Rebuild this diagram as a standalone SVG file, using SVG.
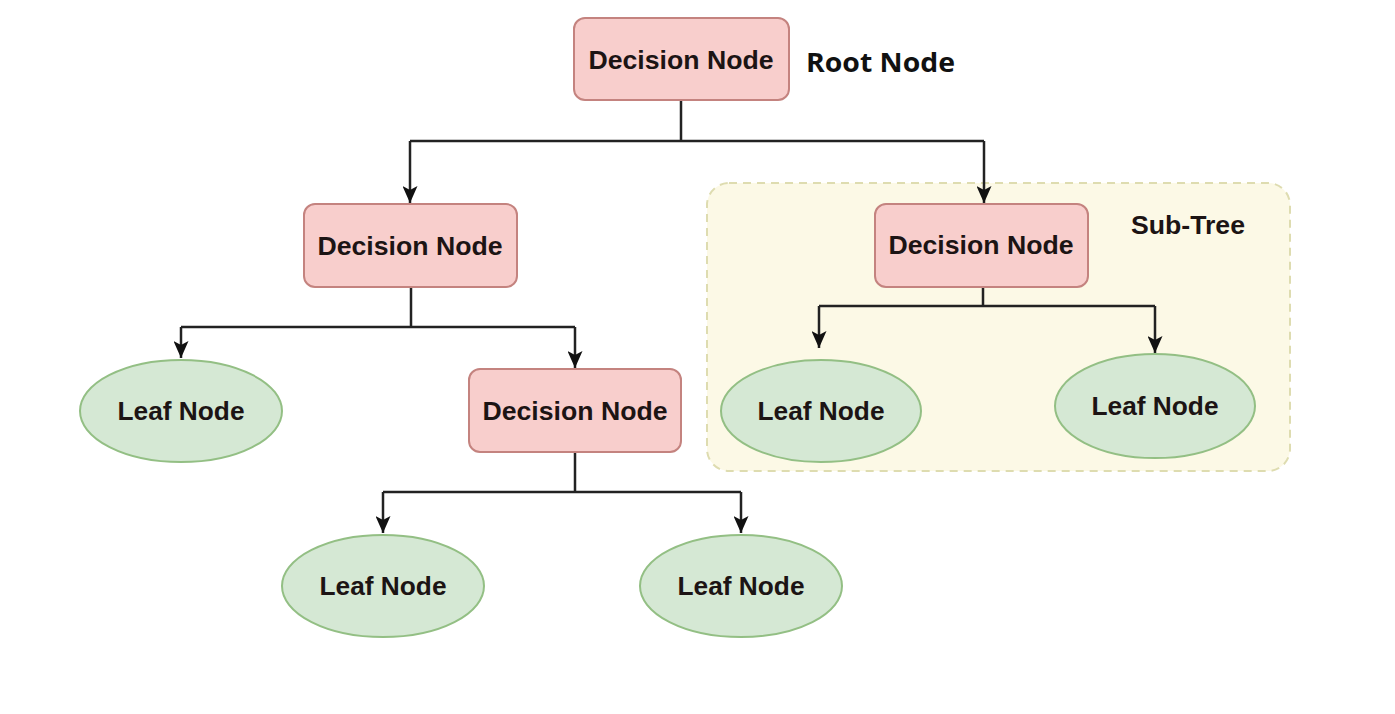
<svg xmlns="http://www.w3.org/2000/svg" width="1395" height="714" viewBox="0 0 1395 714">
<style>
.dec{fill:#f8cecc;stroke:#c4837f;stroke-width:2}
.leaf{fill:#d5e8d4;stroke:#93bf84;stroke-width:2}
.t{font-family:"Liberation Sans",Arial,sans-serif;font-weight:bold;font-size:25px;fill:#1c1414;text-anchor:middle}
.lbl{font-family:"Open Sans","Liberation Sans",sans-serif;font-weight:bold;font-size:27px;fill:#111}
.c{fill:none;stroke:#222;stroke-width:2.5}
</style>
<defs>
<marker id="ah" viewBox="0 0 17 15" refX="17" refY="7.5" markerWidth="17" markerHeight="15" markerUnits="userSpaceOnUse" orient="auto">
<path d="M0,0 L17,7.5 L0,15 L4,7.5 Z" fill="#111"/>
</marker>
</defs>
<rect width="1395" height="714" fill="#fff"/>
<g id="subtree">
<rect x="707" y="183" width="583" height="288" rx="22" fill="#fcf9e6" stroke="#dedcb0" stroke-width="2" stroke-dasharray="8 6"/>
<text class="t" x="1188" y="234" textLength="114" lengthAdjust="spacingAndGlyphs">Sub-Tree</text>
</g>
<g id="connectors">
<path class="c" d="M681,100 V141 M410,141 H984"/>
<path class="c" d="M410,141 V203" marker-end="url(#ah)"/>
<path class="c" d="M984,141 V203" marker-end="url(#ah)"/>
<path class="c" d="M411,287 V327 M181,327 H575"/>
<path class="c" d="M181,327 V358" marker-end="url(#ah)"/>
<path class="c" d="M575,327 V368" marker-end="url(#ah)"/>
<path class="c" d="M575,452 V492 M383,492 H741"/>
<path class="c" d="M383,492 V533" marker-end="url(#ah)"/>
<path class="c" d="M741,492 V533" marker-end="url(#ah)"/>
<path class="c" d="M983,287 V306 M819,306 H1155"/>
<path class="c" d="M819,306 V348" marker-end="url(#ah)"/>
<path class="c" d="M1155,306 V353" marker-end="url(#ah)"/>
</g>
<g id="root">
<rect class="dec" x="574" y="18" width="215" height="82" rx="11"/>
<text class="t" x="681" y="69" textLength="185" lengthAdjust="spacingAndGlyphs">Decision Node</text>
</g>
<g id="root-label">
<text class="lbl" x="806" y="72" textLength="149" lengthAdjust="spacingAndGlyphs">Root Node</text>
</g>
<g id="decision-left">
<rect class="dec" x="304" y="204" width="213" height="83" rx="11"/>
<text class="t" x="410" y="255" textLength="185" lengthAdjust="spacingAndGlyphs">Decision Node</text>
</g>
<g id="decision-right">
<rect class="dec" x="875" y="204" width="213" height="83" rx="11"/>
<text class="t" x="981" y="254" textLength="185" lengthAdjust="spacingAndGlyphs">Decision Node</text>
</g>
<g id="leaf-1">
<ellipse class="leaf" cx="181" cy="411" rx="101" ry="51"/>
<text class="t" x="181" y="420" textLength="127" lengthAdjust="spacingAndGlyphs">Leaf Node</text>
</g>
<g id="decision-mid">
<rect class="dec" x="469" y="369" width="212" height="83" rx="11"/>
<text class="t" x="575" y="420" textLength="185" lengthAdjust="spacingAndGlyphs">Decision Node</text>
</g>
<g id="leaf-2">
<ellipse class="leaf" cx="383" cy="586" rx="101" ry="51"/>
<text class="t" x="383" y="595" textLength="127" lengthAdjust="spacingAndGlyphs">Leaf Node</text>
</g>
<g id="leaf-3">
<ellipse class="leaf" cx="741" cy="586" rx="101" ry="51"/>
<text class="t" x="741" y="595" textLength="127" lengthAdjust="spacingAndGlyphs">Leaf Node</text>
</g>
<g id="leaf-4">
<ellipse class="leaf" cx="821" cy="411" rx="100" ry="51"/>
<text class="t" x="821" y="420" textLength="127" lengthAdjust="spacingAndGlyphs">Leaf Node</text>
</g>
<g id="leaf-5">
<ellipse class="leaf" cx="1155" cy="406" rx="100" ry="52"/>
<text class="t" x="1155" y="415" textLength="127" lengthAdjust="spacingAndGlyphs">Leaf Node</text>
</g>
</svg>
